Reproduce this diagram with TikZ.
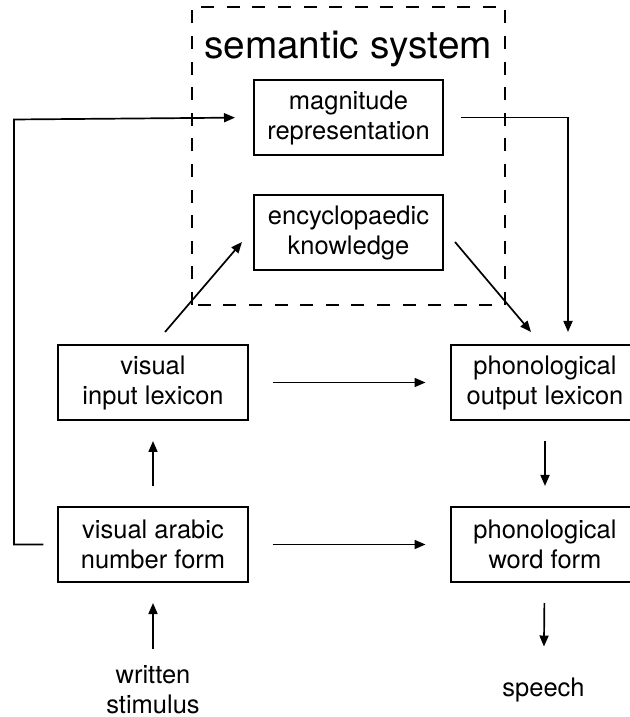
\documentclass[tikz,border=0pt]{standalone}
\usepackage{fontspec}
\setmainfont{TeX Gyre Heros}
\usetikzlibrary{arrows.meta,positioning}

\begin{document}
\begin{tikzpicture}[
  font=\fontsize{12.75pt}{15pt}\selectfont,   % box text
  node distance = 42.5pt and 100.5pt,
  module/.style = {rectangle,
                   draw,
                   line width=1pt,
                   align=center,
                   minimum width=94.5pt,
                   minimum height=37.5pt,
                   inner sep=2pt},
  plain/.style  = {align=center, inner sep=0pt},
  arrow/.style  = {-{Triangle[length=5.5pt,width=4.5pt]}, line width=0.85pt}
]
\useasboundingbox (-76.5pt,-167.25pt) rectangle (238.5pt,191.25pt);
\clip (-76.5pt,-167.25pt) rectangle (238.5pt,191.25pt);

% left column and right column
\node[module] (vil) at (0,0) {visual\\input lexicon};
\node[module, right=of vil]  (pol)  {phonological\\output lexicon};
\node[module, below=of vil]  (vanf) {visual arabic\\number form};
\node[module, below=of pol]  (pwf)  {phonological\\word form};

% semantic system
\node[module] (enc) at (97.75pt,75pt) {encyclopaedic\\knowledge};
\node[module, above=19pt of enc] (mag) {magnitude\\representation};
\node[plain, font=\fontsize{19.4pt}{23pt}\selectfont] (sys) at (97.5pt,166.75pt) {semantic system};
\draw[line width=1pt, dash pattern=on 6.5pt off 6.3pt] (19.5pt,38.75pt) rectangle (176pt,187.75pt);

% input and output
\node[plain] (stim)   at (0,-153.75pt)       {written\\stimulus};
\node[plain] (speech) at (195.25pt,-153.75pt) {speech};

\coordinate (lft) at (-69.5pt,131.5pt);

\draw[arrow, shorten <=8pt,  shorten >=10pt] (stim) -- (vanf);
\draw[arrow, shorten <=10pt, shorten >=10pt] (vanf) -- (vil);
\draw[arrow, shorten <=12pt, shorten >=12pt] (vanf) -- (pwf);
\draw[arrow, shorten <=12pt, shorten >=12pt] (vil)  -- (pol);
\draw[arrow, shorten <=10pt, shorten >=10pt] (pol)  -- (pwf);
\draw[arrow, shorten <=10pt, shorten >=15.5pt] (pwf) -- (speech);
\draw[arrow] ([xshift=6pt,yshift=6pt]vil.north) -- ([xshift=-5.5pt,yshift=-4.75pt]enc.west);
\draw[arrow] ([xshift=5.5pt,yshift=-4.75pt]enc.east) -- ([xshift=-7pt,yshift=6pt]pol.north);
\draw[arrow, shorten <=8.5pt, shorten >=6pt] (mag) -| ([xshift=11.5pt]pol.north);
\draw[arrow, shorten <=7pt, shorten >=9pt] (vanf.west) -| (lft) -- (mag.west);

\end{tikzpicture}
\end{document}
